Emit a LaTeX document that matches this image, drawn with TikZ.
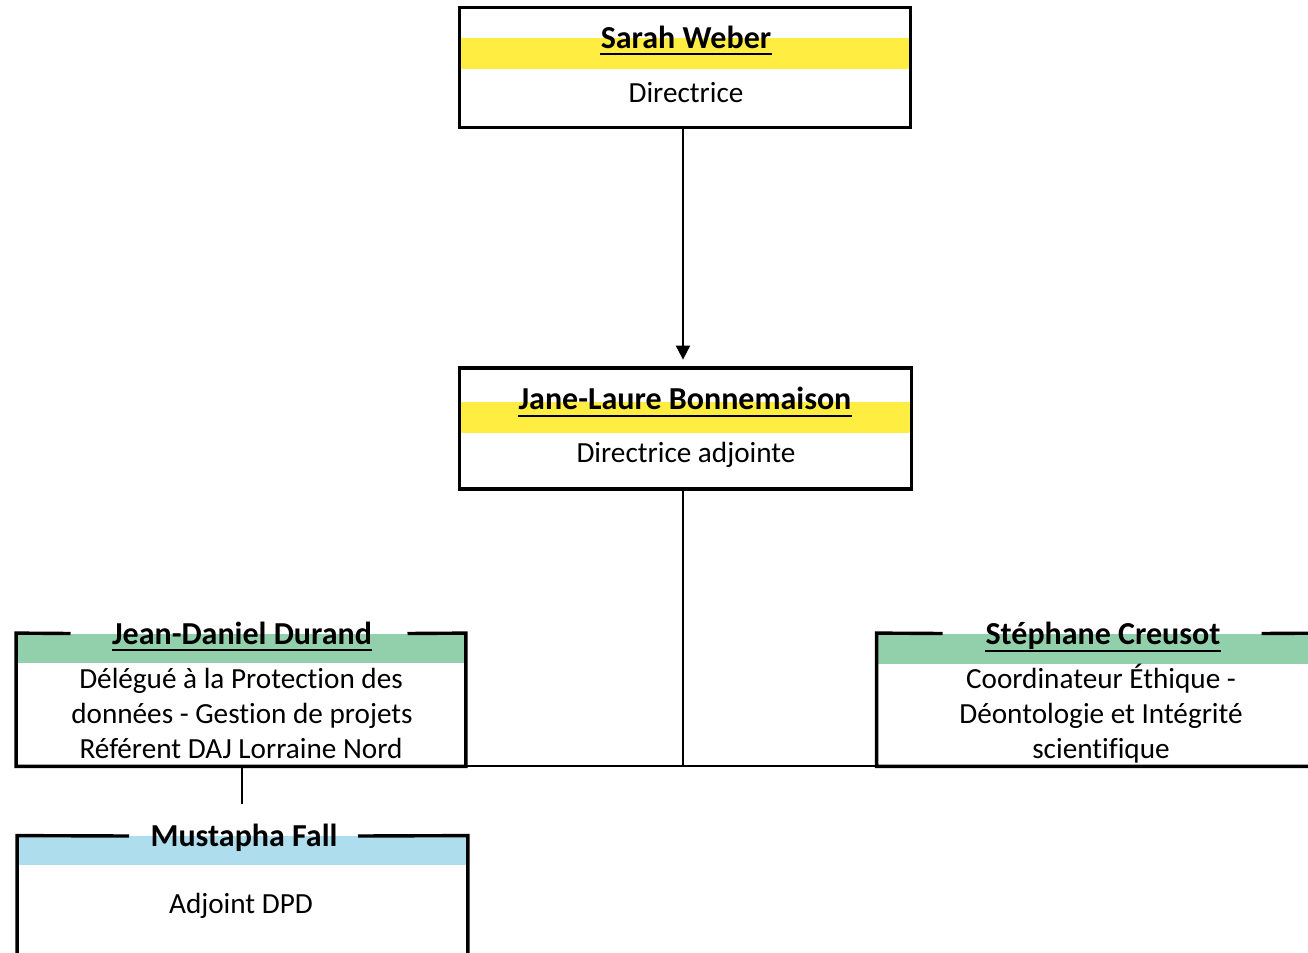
\documentclass[tikz,border=0pt]{standalone}
\usepackage{fontspec}
\setmainfont{Carlito}[Ligatures={NoCommon,NoContextual}]
\usetikzlibrary{arrows.meta,calc}
\definecolor{bandyellow}{RGB}{255,237,65}
\definecolor{bandgreen}{RGB}{146,208,172}
\definecolor{bandblue}{RGB}{174,222,238}
\begin{document}
\begin{tikzpicture}[x=0.5pt,y=-0.5pt,
  boxshape/.style={draw=none, rectangle, inner sep=0pt},
  frame/.style={line width=1.7pt, line join=miter},
  conn/.style={line width=1pt},
  namefont/.style={font=\fontsize{16}{19}\selectfont\bfseries, inner sep=0pt, anchor=base},
  bodyfont/.style={font=\fontsize{14.6}{17.5}\selectfont, inner sep=0pt, anchor=base},
  uline/.style={line width=1pt}]
\useasboundingbox (0,0) rectangle (1308,953);
\clip (0,0) rectangle (1308,953);

% boxes
\node[boxshape, minimum width=225pt, minimum height=59.5pt] (b1) at (685,67.5) {};
\node[boxshape, minimum width=225.5pt, minimum height=60pt] (b2) at (685.5,428.5) {};
\node[boxshape, minimum width=224.5pt, minimum height=66.25pt] (b3) at (241,699.75) {};
\node[boxshape, minimum width=224.5pt, minimum height=66.25pt] (b4) at (1101.5,699.75) {};
\node[boxshape, minimum width=225pt, minimum height=82pt] (b5) at (242.5,918) {};

% bands
\fill[bandyellow] (460,38) rectangle (910,69);
\fill[bandyellow] (460,402) rectangle (911,433);
\fill[bandgreen] (16.5,633.5) rectangle (465.5,663);
\fill[bandgreen] (877,633.5) rectangle (1326,664);
\fill[bandblue] (17.5,836) rectangle (467.5,865);

% connectors
\coordinate (cx) at (683,0);
\coordinate (dx) at (242,0);
\coordinate (jn) at (683,766);
\draw[conn,-{Triangle[width=7pt,length=7pt]},shorten >=4.25pt] (b1.south -| cx) -- (b2.north -| cx);
\draw[conn] (b2.south -| cx) -- (jn);
\draw[conn] (b3.south east) -- (b4.south west);
\draw[conn, shorten >=16pt] (b3.south -| dx) -- (b5.north -| dx);

% frames
\draw[frame] (b1.north west) rectangle (b1.south east);
\draw[frame] (b2.north west) rectangle (b2.south east);
\draw[frame] (70.5,633.5) -- (b3.north west) -- (b3.south west) -- (b3.south east) -- (b3.north east) -- (407.5,633.5);
\draw[frame] (942.5,633.5) -- (b4.north west) -- (b4.south west) -- (b4.south east) -- (b4.north east) -- (1261.5,633.5);
\draw[frame] (129,836) -- (b5.north west) -- (b5.south west) -- (b5.south east) -- (b5.north east) -- (358,836);

% texts
\node[namefont] (n1) at (686,48) {Sarah Weber};
\draw[uline] ([yshift=-3pt]n1.base west) -- ([yshift=-3pt]n1.base east);
\node[bodyfont] (t1) at (686,102) {Directrice};

\node[namefont] (n2) at (685,409.5) {Jane-Laure Bonnemaison};
\draw[uline] ([yshift=-3pt]n2.base west) -- ([yshift=-3pt]n2.base east);
\node[bodyfont] (t2) at (686,462) {Directrice adjointe};

\node[namefont] (n3) at (242,644) {Jean-Daniel Durand};
\draw[uline] ([yshift=-3pt]n3.base west) -- ([yshift=-3pt]n3.base east);
\node[bodyfont] (t3a) at (241,688) {Délégué à la Protection des};
\node[bodyfont] (t3b) at (242,723) {données - Gestion de projets};
\node[bodyfont] (t3c) at (241,758) {Référent DAJ Lorraine Nord};

\node[namefont] (n4) at (1103,644.5) {Stéphane Creusot};
\draw[uline] ([yshift=-3pt]n4.base west) -- ([yshift=-3pt]n4.base east);
\node[bodyfont] (t4a) at (1101,688) {Coordinateur Éthique -};
\node[bodyfont] (t4b) at (1101,723) {Déontologie et Intégrité};
\node[bodyfont] (t4c) at (1101,758) {scientifique};

\node[namefont] (n5) at (244,846) {Mustapha Fall};
\node[bodyfont] (t5) at (241,913) {Adjoint DPD};
\end{tikzpicture}
\end{document}
